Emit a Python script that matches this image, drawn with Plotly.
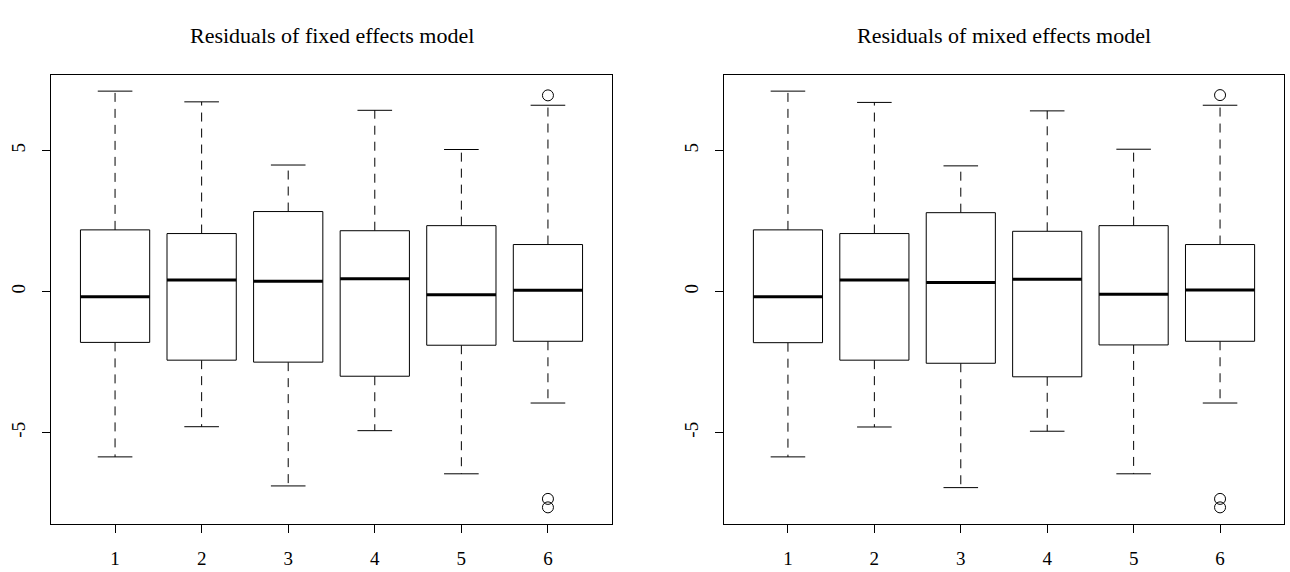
import plotly.graph_objects as go
from plotly.subplots import make_subplots

# Group labels
groups = [1, 2, 3, 4, 5, 6]

# Five-number summaries of residuals, fixed effects model
fixed_upper = [7.11, 6.73, 4.49, 6.43, 5.04, 6.61]
fixed_q3 = [2.19, 2.06, 2.84, 2.16, 2.34, 1.67]
fixed_median = [-0.18, 0.41, 0.37, 0.46, -0.11, 0.05]
fixed_q1 = [-1.80, -2.43, -2.50, -3.00, -1.90, -1.76]
fixed_lower = [-5.86, -4.79, -6.89, -4.93, -6.46, -3.95]
fixed_out_group = [6, 6, 6]
fixed_out_value = [6.96, -7.35, -7.65]

# Five-number summaries of residuals, mixed effects model
mixed_upper = [7.11, 6.71, 4.46, 6.41, 5.05, 6.61]
mixed_q3 = [2.19, 2.06, 2.80, 2.14, 2.34, 1.67]
mixed_median = [-0.18, 0.41, 0.32, 0.44, -0.09, 0.06]
mixed_q1 = [-1.81, -2.43, -2.54, -3.02, -1.89, -1.76]
mixed_lower = [-5.86, -4.80, -6.95, -4.95, -6.46, -3.95]
mixed_out_group = [6, 6, 6]
mixed_out_value = [6.97, -7.35, -7.65]

titles = ["Residuals of fixed effects model", "Residuals of mixed effects model"]

BOX_HALF = 0.4     # boxwex 0.8
CAP_HALF = 0.2     # staple width
FONT = "Liberation Serif"

fig = make_subplots(rows=1, cols=2)


def add_boxplot(col, upper, q3, med, q1, lower, out_g, out_v):
    bx, by, mx, my, wx, wy, cx, cy = [], [], [], [], [], [], [], []
    for g, hi, b3, m, b1, lo in zip(groups, upper, q3, med, q1, lower):
        bx += [g - BOX_HALF, g + BOX_HALF, g + BOX_HALF, g - BOX_HALF, g - BOX_HALF, None]
        by += [b1, b1, b3, b3, b1, None]
        mx += [g - BOX_HALF, g + BOX_HALF, None]
        my += [m, m, None]
        wx += [g, g, None, g, g, None]
        wy += [b3, hi, None, b1, lo, None]
        cx += [g - CAP_HALF, g + CAP_HALF, None, g - CAP_HALF, g + CAP_HALF, None]
        cy += [hi, hi, None, lo, lo, None]
    common = dict(mode="lines", showlegend=False, hoverinfo="skip")
    fig.add_trace(go.Scatter(x=wx, y=wy, line=dict(color="black", width=1, dash="9px,7px"), **common), row=1, col=col)
    fig.add_trace(go.Scatter(x=cx, y=cy, line=dict(color="black", width=1), **common), row=1, col=col)
    fig.add_trace(go.Scatter(x=bx, y=by, line=dict(color="black", width=1), fill="toself",
                             fillcolor="white", **common), row=1, col=col)
    fig.add_trace(go.Scatter(x=mx, y=my, line=dict(color="black", width=3), **common), row=1, col=col)
    fig.add_trace(go.Scatter(x=out_g, y=out_v, mode="markers", showlegend=False,
                             marker=dict(symbol="circle-open", size=11, color="black",
                                         line=dict(width=1, color="black"))),
                  row=1, col=col)


add_boxplot(1, fixed_upper, fixed_q3, fixed_median, fixed_q1, fixed_lower,
            fixed_out_group, fixed_out_value)
add_boxplot(2, mixed_upper, mixed_q3, mixed_median, mixed_q1, mixed_lower,
            mixed_out_group, mixed_out_value)

W, H = 1290, 572
x_domains = [[51 / W, 612 / W], [724 / W, 1284 / W]]
y_domain = [(H - 524) / H, (H - 74.5) / H]

axis_common = dict(showgrid=False, zeroline=False, showline=True, mirror=True,
                   linecolor="black", linewidth=1, ticks="outside", ticklen=8,
                   tickcolor="black", tickwidth=1,
                   tickfont=dict(family=FONT, size=19, color="black"))

for i in (1, 2):
    fig.update_xaxes(domain=x_domains[i - 1], range=[0.26, 6.74], tickvals=groups,
                     ticktext=[str(g) for g in groups], ticklabelstandoff=9,
                     row=1, col=i, **axis_common)
    fig.update_yaxes(domain=y_domain, range=[-8.24, 7.70], tickvals=[-5, 0, 5],
                     ticktext=["-5", "0", "5"], tickangle=-90, ticklabelstandoff=9,
                     row=1, col=i, **axis_common)

annotations = []
for dom, t in zip(x_domains, titles):
    annotations.append(dict(text=t, x=(dom[0] + dom[1]) / 2, y=1 - 36 / H,
                            xref="paper", yref="paper", showarrow=False,
                            xanchor="center", yanchor="middle",
                            font=dict(family=FONT, size=22, color="black")))

fig.update_layout(width=W, height=H, margin=dict(l=0, r=0, t=0, b=0),
                  paper_bgcolor="white", plot_bgcolor="white",
                  annotations=annotations, showlegend=False)

fig.write_html("out.html")
